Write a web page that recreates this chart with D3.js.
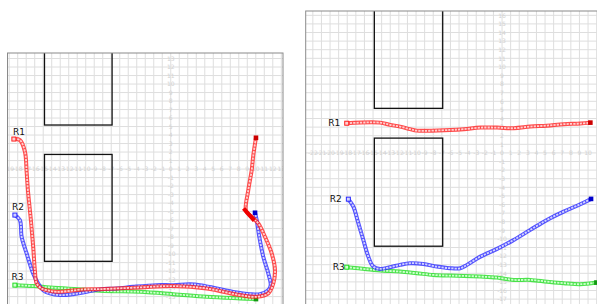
<!DOCTYPE html>
<html>
<head>
<meta charset="utf-8">
<script src="https://cdn.jsdelivr.net/npm/d3@7"></script>
<style>
  body { margin: 0; background: #fff; }
  svg { display: block; }
</style>
</head>
<body>
<svg id="chart" width="597" height="304"></svg>
<script>
// robot tracks, in grid units [x, y]
const r1Left = [[-18.45, 3.53], [-17.74, 3.41], [-17.15, 2.04], [-16.95, -0.32], [-16.8, -2.47], [-16.45, -6.0],
  [-16.18, -9.14], [-15.98, -11.88], [-15.78, -13.41], [-15.27, -14.0], [-14.6, -14.24], [-13.42, -14.44],
  [-10.29, -14.15], [-8.33, -14.12], [-3.62, -13.92], [0.26, -13.76], [4.22, -14.04], [8.14, -14.82],
  [10.11, -15.02], [11.47, -14.62], [12.06, -13.45], [12.26, -11.88], [11.87, -9.92], [11.08, -7.96],
  [10.29, -6.39], [9.52, -5.61], [8.85, -4.94], [9.12, -2.47], [9.52, -0.12], [9.71, 1.65], [10.02, 3.68]];
const r1LeftStall = [[8.73, -4.82], [9.67, -5.88]];
const r2Left = [[-18.33, -5.41], [-17.74, -6.0], [-17.54, -7.96], [-16.95, -9.92], [-16.18, -12.27], [-15.59, -13.45],
  [-15.0, -14.24], [-14.21, -14.62], [-13.04, -14.82], [-11.47, -14.71], [-9.89, -14.44], [-8.33, -14.15],
  [-6.36, -14.04], [-4.41, -13.85], [-1.66, -13.65], [0.29, -13.65], [2.26, -13.56], [3.44, -13.65],
  [5.4, -14.04], [7.35, -14.44], [9.32, -14.71], [10.49, -14.71], [11.47, -14.24], [11.75, -13.65],
  [11.47, -12.27], [10.88, -10.32], [10.41, -7.96], [10.11, -6.0], [9.91, -5.14]];
const r3Left = [[-18.33, -13.65], [-16.18, -13.76], [-14.21, -13.92], [-12.25, -14.04], [-8.33, -14.32],
  [-3.62, -14.44], [0.29, -14.71], [4.22, -15.02], [8.14, -15.21], [10.02, -15.29]];

const r1Right = [[-18.06, 3.45], [-14.19, 3.52], [-13.02, 3.26], [-11.86, 3.06], [-10.7, 2.76], [-9.92, 2.59],
  [-6.05, 2.67], [-4.45, 2.76], [-2.52, 2.94], [-0.58, 2.94], [1.36, 2.87], [3.29, 3.06], [5.23, 3.17],
  [7.17, 3.34], [9.1, 3.41], [10.27, 3.52]];
const r2Right = [[-17.87, -5.38], [-17.29, -6.24], [-16.71, -8.17], [-16.13, -10.12], [-15.55, -12.06],
  [-14.97, -13.22], [-14.19, -13.49], [-13.02, -13.29], [-11.86, -13.02], [-10.7, -12.83], [-9.15, -12.91],
  [-7.59, -13.22], [-6.05, -13.41], [-4.85, -13.41], [-4.07, -13.02], [-2.52, -12.06], [-0.58, -11.16],
  [1.36, -10.12], [3.29, -8.95], [5.23, -7.79], [7.17, -6.83], [9.1, -5.97], [10.35, -5.35]];
const r3Right = [[-18.06, -13.29], [-15.73, -13.52], [-13.8, -13.69], [-11.86, -13.8], [-9.92, -13.99],
  [-7.99, -14.19], [-6.05, -14.27], [-4.45, -14.3], [-2.52, -14.38], [-0.58, -14.5], [1.36, -14.77],
  [3.29, -14.77], [5.23, -14.97], [7.17, -15.15], [9.1, -15.27], [10.97, -15.08]];

// obstacles [x0, x1, y0, y1]
const obstacles = [[-14.85, -6.9, 5.18, 30], [-14.85, -6.9, -10.85, 1.72]];

const trackNames = ["R1", "R2", "R3"];
const trackColors = ["#ff2020", "#2a2aff", "#22dd22"];
const trackTints = ["#ffd0d0", "#d4d4ff", "#d0ffd0"];
const trackEnds = ["#cc0000", "#0000cc", "#119911"];

const svg = d3.select("#chart");

const panels = [
  {
    id: "left",
    box: [7.5, 53, 283, 330],
    x: d3.scaleLinear().domain([-19.2, 13.2]).range([7.5, 283]),
    y: d3.scaleLinear().domain([13.65, -18]).range([53, 53 + 31.65 * 8.503]),
    tracks: [r1Left, r2Left, r3Left],
    stall: r1LeftStall,
    labelOffsets: [[-1, -4], [-3, -5], [-3.5, -5.5]],
    labelAnchor: "start"
  },
  {
    id: "right",
    box: [305.7, 11, 620, 330],
    x: d3.scaleLinear().domain([-22.83, 12]).range([305.7, 305.7 + 34.83 * 8.6]),
    y: d3.scaleLinear().domain([16.5, -19]).range([11, 11 + 35.5 * 8.6]),
    tracks: [r1Right, r2Right, r3Right],
    stall: null,
    labelOffsets: [[-6.5, 2.5], [-6.5, 3], [-2, 3]],
    labelAnchor: "end"
  }
];

panels.forEach(p => {
  const [bx0, by0, bx1, by1] = p.box;
  svg.append("clipPath").attr("id", "clip-" + p.id)
    .append("rect").attr("x", bx0).attr("y", by0).attr("width", bx1 - bx0).attr("height", by1 - by0);

  const g = svg.append("g").attr("clip-path", `url(#clip-${p.id})`);

  // grid, one line per unit
  const xs = d3.range(Math.ceil(p.x.domain()[0]), Math.floor(p.x.domain()[1]) + 1);
  const ys = d3.range(Math.ceil(p.y.domain()[1]), Math.floor(p.y.domain()[0]) + 1);
  g.append("g").selectAll("line").data(xs).join("line")
    .attr("x1", d => p.x(d)).attr("x2", d => p.x(d))
    .attr("y1", by0).attr("y2", by1)
    .attr("stroke", "#dedede").attr("stroke-width", 1);
  g.append("g").selectAll("line").data(ys).join("line")
    .attr("y1", d => p.y(d)).attr("y2", d => p.y(d))
    .attr("x1", bx0).attr("x2", bx1)
    .attr("stroke", "#dedede").attr("stroke-width", 1);

  // faint tick labels along the axes (only those inside the picture)
  const tl = g.append("g").attr("font-family", "DejaVu Sans, sans-serif")
    .attr("font-size", 6).attr("fill", "#d2d2d2").attr("text-anchor", "middle");
  tl.selectAll("text.xl").data(xs.filter(d => p.x(d) < 594)).join("text").attr("class", "xl")
    .attr("x", d => p.x(d)).attr("y", p.y(0) + 2.2).text(d => d);
  tl.selectAll("text.yl").data(ys.filter(d => d !== 0 && p.y(d) < 301)).join("text").attr("class", "yl")
    .attr("x", p.x(0)).attr("y", d => p.y(d) + 2.2).text(d => d);

  // obstacles
  g.append("g").selectAll("rect").data(obstacles).join("rect")
    .attr("x", d => p.x(d[0])).attr("width", d => p.x(d[1]) - p.x(d[0]))
    .attr("y", d => p.y(d[3])).attr("height", d => p.y(d[2]) - p.y(d[3]))
    .attr("fill", "none").attr("stroke", "#111").attr("stroke-width", 1.3);

  const line = d3.line().x(d => p.x(d[0])).y(d => p.y(d[1])).curve(d3.curveCatmullRom.alpha(0.5));

  // tracks drawn back to front (R3 first)
  [2, 1, 0].forEach(i => {
    const pts = p.tracks[i];
    const tg = g.append("g");
    tg.append("path").attr("d", line(pts)).attr("fill", "none")
      .attr("stroke", trackColors[i]).attr("stroke-width", 4).attr("stroke-opacity", 0.8);
    tg.append("path").attr("d", line(pts)).attr("fill", "none")
      .attr("stroke", trackTints[i]).attr("stroke-width", 1.8)
      .attr("stroke-dasharray", "2.2,1.1");
    const s = pts[0], e = pts[pts.length - 1];
    tg.append("rect").attr("x", p.x(s[0]) - 2).attr("y", p.y(s[1]) - 2).attr("width", 4).attr("height", 4)
      .attr("fill", trackTints[i]).attr("stroke", trackColors[i]).attr("stroke-width", 1);
    tg.append("rect").attr("x", p.x(e[0]) - 2.3).attr("y", p.y(e[1]) - 2.3).attr("width", 4.6).attr("height", 4.6)
      .attr("fill", trackEnds[i]);
    if (i === 0 && p.stall) {
      tg.append("path").attr("d", d3.line().x(d => p.x(d[0])).y(d => p.y(d[1]))(p.stall))
        .attr("stroke", "#ee0000").attr("stroke-width", 4.2).attr("stroke-linecap", "square");
    }
  });

  // robot labels
  g.append("g").attr("font-family", "DejaVu Sans, sans-serif").attr("font-size", 9).attr("fill", "#111")
    .selectAll("text").data(trackNames).join("text")
    .attr("text-anchor", p.labelAnchor)
    .attr("x", (d, i) => p.x(p.tracks[i][0][0]) + p.labelOffsets[i][0])
    .attr("y", (d, i) => p.y(p.tracks[i][0][1]) + p.labelOffsets[i][1])
    .text(d => d);

  // panel frame
  svg.append("rect").attr("x", bx0).attr("y", by0).attr("width", bx1 - bx0).attr("height", by1 - by0)
    .attr("fill", "none").attr("stroke", "#8a8a8a").attr("stroke-width", 1);
});
</script>
</body>
</html>
